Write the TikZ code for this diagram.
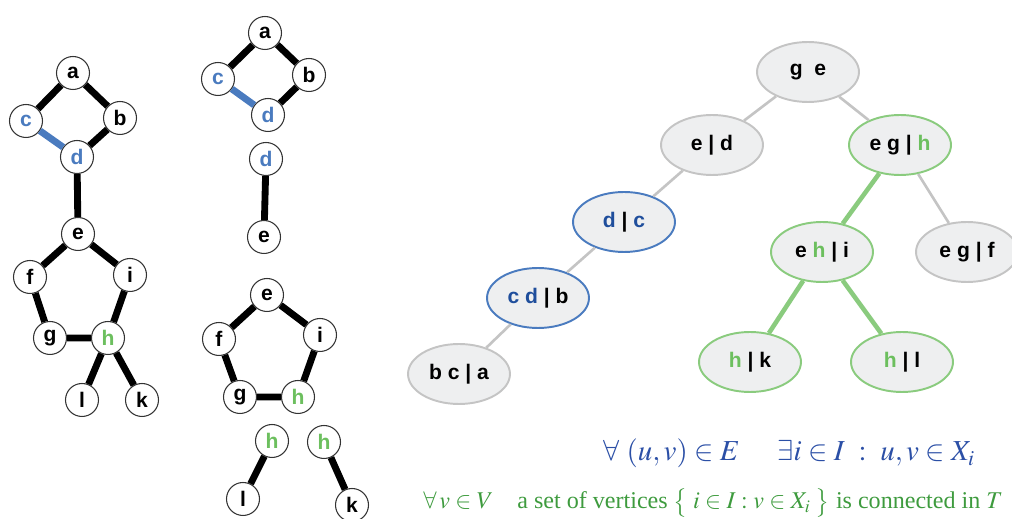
\documentclass[tikz,border=0pt]{standalone}
\usepackage{amsmath, amssymb}
\usepackage{mathptmx}
\usepackage{fontspec}
\setmainfont{Liberation Serif}
\setsansfont{Liberation Sans}
\usetikzlibrary{shapes.geometric}

\definecolor{vtxblue}{HTML}{4A7BBF}
\definecolor{bagblue}{HTML}{1F4E9C}
\definecolor{vtxgreen}{HTML}{6CBF5E}
\definecolor{rimgreen}{HTML}{8ACB7E}
\definecolor{baggray}{HTML}{EEEFF0}
\definecolor{rimgray}{HTML}{C4C4C4}
\definecolor{formblue}{HTML}{2B4FA6}
\definecolor{formgreen}{HTML}{3E9B3E}

\tikzset{
  vtx/.style={circle, draw=black!80, fill=white, line width=0.6pt, minimum size=0.66cm,
    inner sep=0pt, font=\sffamily\bfseries\large},
  gedge/.style={line width=3.9pt},
  bag/.style={ellipse, draw=rimgray, fill=baggray, line width=1.1pt, minimum width=2.04cm,
    minimum height=1.2cm, inner sep=0pt, font=\sffamily\bfseries\large},
  tedge/.style={rimgray, line width=1.5pt},
  tgreen/.style={rimgreen, line width=2.6pt},
}
\newcommand{\hb}[1]{\textcolor{vtxblue}{#1}}
\newcommand{\hg}[1]{\textcolor{vtxgreen}{#1}}
\newcommand{\db}[1]{\textcolor{bagblue}{#1}}

\begin{document}
\begin{tikzpicture}[x=0.02cm, y=-0.02cm]
\useasboundingbox (0,0) rectangle (1012,519);

% whole graph
\node[vtx] (a) at (73,73) {a};
\node[vtx] (b) at (120,118) {b};
\node[vtx] (c) at (26,121) {\hb{c}};
\node[vtx] (d) at (77,157) {\hb{d}};
\node[vtx] (e) at (78,234) {e};
\node[vtx] (f) at (30,277) {f};
\node[vtx] (i) at (130,275) {i};
\node[vtx] (g) at (50,338) {g};
\node[vtx] (h) at (108,338) {\hg{h}};
\node[vtx] (l) at (82,400) {l};
\node[vtx] (k) at (142,400) {k};
\draw[gedge] (c) -- (a) -- (b) -- (d) -- (e) -- (f) -- (g) -- (h) -- (i) -- (e);
\draw[gedge] (h) -- (l) (h) -- (k);
\draw[gedge, vtxblue] (c) -- (d);

% split into pieces
\node[vtx] (a1) at (265,33) {a};
\node[vtx] (b1) at (309,75) {b};
\node[vtx] (c1) at (218,79) {\hb{c}};
\node[vtx] (d1) at (268,115) {\hb{d}};
\node[vtx] (d2) at (266,159) {\hb{d}};
\node[vtx] (e2) at (264,237) {e};
\node[vtx] (e3) at (267,295) {e};
\node[vtx] (f3) at (219,339) {f};
\node[vtx] (i3) at (320,335) {i};
\node[vtx] (g3) at (240,397) {g};
\node[vtx] (h3) at (298,397) {\hg{h}};
\node[vtx] (h4) at (272,441) {\hg{h}};
\node[vtx] (l4) at (243,499) {l};
\node[vtx] (h5) at (324,442) {\hg{h}};
\node[vtx] (k5) at (352,505) {k};
\draw[gedge] (c1) -- (a1) -- (b1) -- (d1);
\draw[gedge, vtxblue] (c1) -- (d1);
\draw[gedge] (d2) -- (e2);
\draw[gedge] (e3) -- (f3) -- (g3) -- (h3) -- (i3) -- (e3);
\draw[gedge] (h4) -- (l4);
\draw[gedge] (h5) -- (k5);

% decomposition tree
\node[bag] (ge) at (808,72) {g\ \ e};
\node[bag] (ed) at (712,145) {e | d};
\node[bag, draw=rimgreen] (egh) at (900,145) {e g | \hg{h}};
\node[bag, draw=vtxblue] (dc) at (624,222) {\db{d} | \db{c}};
\node[bag, draw=rimgreen] (ehi) at (822,252) {e \hg{h} | i};
\node[bag] (egf) at (967,252) {e g | f};
\node[bag, draw=vtxblue] (cdb) at (538,298) {\db{c d} | b};
\node[bag] (bca) at (459,374) {b c | a};
\node[bag, draw=rimgreen] (hk) at (750,362) {\hg{h} | k};
\node[bag, draw=rimgreen] (hl) at (902,362) {\hg{h} | l};
\draw[tedge] (ge) -- (ed) (ge) -- (egh) (egh) -- (egf);
\draw[tedge] (ed) -- (dc) -- (cdb) -- (bca);
\draw[tgreen] (egh) -- (ehi) (ehi) -- (hk) (ehi) -- (hl);

% conditions
\node[anchor=base west, inner sep=0pt, text=formblue, font=\fontsize{16.5}{19}\selectfont]
  (cond1) at (603,461) {$\forall\ (u,v)\in E\hspace{1.3em}\exists i\in I\ :\ u,v\in X_i$};
\node[anchor=base west, inner sep=0pt, text=formgreen, font=\fontsize{13.7}{16}\selectfont]
  (cond2) at (423,509) {$\forall\, v\in V$\quad a set of vertices
  $\bigl\{\; i\in I : v\in X_i \;\bigr\}$ is connected in $T$};
\end{tikzpicture}
\end{document}
